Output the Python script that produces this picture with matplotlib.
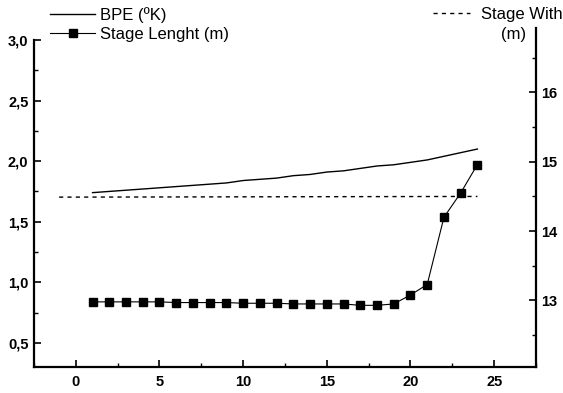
import matplotlib
matplotlib.use('Agg')
import matplotlib.pyplot as plt
from matplotlib.lines import Line2D
from matplotlib.ticker import MultipleLocator, FuncFormatter

plt.rcParams['font.family'] = ['Liberation Sans', 'DejaVu Sans']

# stage number
stage = list(range(1, 25))

# BPE (K), left axis
bpe = [1.74, 1.75, 1.76, 1.77, 1.78, 1.79, 1.80, 1.81, 1.82, 1.84, 1.85, 1.86,
       1.88, 1.89, 1.91, 1.92, 1.94, 1.96, 1.97, 1.99, 2.01, 2.04, 2.07, 2.10]

# stage length (m), right axis
stage_length = [12.98, 12.98, 12.98, 12.98, 12.98, 12.97, 12.97, 12.97, 12.97, 12.96,
                12.96, 12.96, 12.95, 12.95, 12.95, 12.95, 12.93, 12.93, 12.95, 13.08,
                13.23, 14.20, 14.55, 14.96]

# stage width (m), right axis
width_x = [-1, 24]
stage_width = [14.49, 14.50]

fig = plt.figure(figsize=(5.63, 3.93), dpi=100)
ax = fig.add_axes([0.0604, 0.066, 0.8916, 0.863])
ax2 = ax.twinx()

ax.plot(stage, bpe, color='black', lw=1.0)
ax2.plot(width_x, stage_width, color='black', lw=1.0, linestyle=(0, (3, 3)))
ax2.plot(stage, stage_length, color='black', lw=0.8, marker='s', markersize=5.5)

ax.set_xlim(-2.5, 27.5)
ax.set_ylim(0.3, 3.1)
ax2.set_ylim(12.04, 16.93)

comma = FuncFormatter(lambda v, p: ('%.1f' % v).replace('.', ','))
ax.xaxis.set_major_locator(MultipleLocator(5))
ax.xaxis.set_minor_locator(MultipleLocator(2.5))
ax.yaxis.set_major_locator(MultipleLocator(0.5))
ax.yaxis.set_minor_locator(MultipleLocator(0.25))
ax.yaxis.set_major_formatter(comma)
ax2.yaxis.set_major_locator(MultipleLocator(1))
ax2.yaxis.set_minor_locator(MultipleLocator(0.5))

for a in (ax, ax2):
    a.spines['top'].set_visible(False)
    for s in ('left', 'right', 'bottom'):
        a.spines[s].set_linewidth(1.6)
    a.tick_params(which='major', direction='in', length=5, width=1.2,
                  labelsize=10.5)
    a.tick_params(which='minor', direction='in', length=3, width=1.0)
    for lab in a.get_xticklabels() + a.get_yticklabels():
        lab.set_fontweight('bold')
ax.spines['right'].set_visible(False)
ax2.spines['left'].set_visible(False)
ax2.spines['bottom'].set_visible(False)
ax.spines['left'].set_bounds(0.3, 3.0)
ax.tick_params(axis='y', pad=4)
ax.tick_params(axis='x', pad=6)
ax2.tick_params(axis='y', pad=4)

h1 = [Line2D([], [], color='black', lw=1.0),
      Line2D([], [], color='black', lw=0.8, marker='s', markersize=5.5)]
leg1 = fig.legend(h1, ['BPE (ºK)', 'Stage Lenght (m)'], loc='upper left',
                  bbox_to_anchor=(50 / 563, 1 - 7 / 393), frameon=False,
                  fontsize=12, borderpad=0, borderaxespad=0,
                  handlelength=2.7, handletextpad=0.3, labelspacing=0.25)
h2 = [Line2D([], [], color='black', lw=1.0, linestyle=(0, (3, 3)))]
leg2 = fig.legend(h2, ['Stage With'], loc='upper right',
                  bbox_to_anchor=(563 / 563, 1 - 7 / 393), frameon=False,
                  fontsize=12, borderpad=0, borderaxespad=0,
                  handlelength=2.2, handletextpad=0.7)
fig.text(526 / 563, 1 - 34 / 393, '(m)', ha='right', va='center', fontsize=12)

fig.savefig('out.png', dpi=100)
